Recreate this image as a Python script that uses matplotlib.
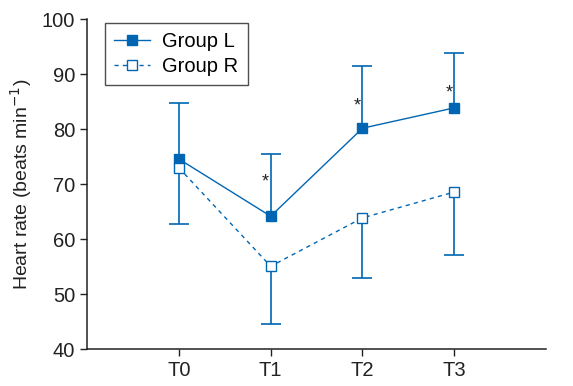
import matplotlib
matplotlib.use('Agg')
import matplotlib.pyplot as plt
import numpy as np

timepoints = ['T0', 'T1', 'T2', 'T3']
group_l = [74.6, 64.2, 80.2, 83.9]
group_l_upper = [84.8, 75.5, 91.5, 93.9]
group_r = [73.0, 55.1, 63.9, 68.6]
group_r_lower = [62.8, 44.6, 53.0, 57.2]
star_y = [None, 70.4, 84.2, 86.6]

plt.rcParams['font.family'] = ['Liberation Sans', 'DejaVu Sans']
blue = '#0066b3'
dark = '#222222'

fig = plt.figure(figsize=(5.73, 3.86), dpi=100)
ax = fig.add_axes([0.152, 0.095, 0.801, 0.855])

x = np.arange(len(timepoints))

# error bars: Group L upward only, Group R downward only
ax.vlines(x, group_l, group_l_upper, color=blue, lw=1.2, zorder=2)
ax.plot(x, group_l_upper, ls='none', marker='_', ms=14, mew=1.2, color=blue, zorder=2)
ax.vlines(x, group_r_lower, group_r, color=blue, lw=1.2, zorder=2)
ax.plot(x, group_r_lower, ls='none', marker='_', ms=14, mew=1.2, color=blue, zorder=2)

ax.plot(x, group_l, color=blue, lw=1.0, marker='s', ms=7, mfc=blue, mec=blue,
        label='Group L', zorder=3)
ax.plot(x, group_r, color=blue, lw=1.0, ls=(0, (3, 3)), marker='s', ms=7,
        mfc='white', mec=blue, mew=1.0, label='Group R', zorder=4)

for i, sy in enumerate(star_y):
    if sy is not None:
        ax.text(x[i] - 0.06, sy, '*', ha='center', va='center', fontsize=13,
                color=dark)

ax.set_xlim(-1, 4)
ax.set_ylim(40, 100)
ax.set_xticks(x)
ax.set_xticklabels(timepoints)
ax.set_yticks(range(40, 101, 10))
ax.tick_params(labelsize=14.5, width=1, length=5, color=dark, labelcolor=dark)
ax.set_ylabel('Heart rate (beats min$^{-1}$)', fontsize=14, color=dark,
              labelpad=6)
for s in ['top', 'right']:
    ax.spines[s].set_visible(False)
for s in ['left', 'bottom']:
    ax.spines[s].set_linewidth(1.1)
    ax.spines[s].set_color(dark)

leg = ax.legend(loc='upper left', bbox_to_anchor=(0.039, 0.989), fontsize=14.5,
                frameon=True, fancybox=False, edgecolor=dark, borderaxespad=0,
                handlelength=1.8, borderpad=0.45, labelspacing=0.3,
                handletextpad=0.6)
leg.get_frame().set_linewidth(1.0)

fig.savefig('out.png', dpi=100)
